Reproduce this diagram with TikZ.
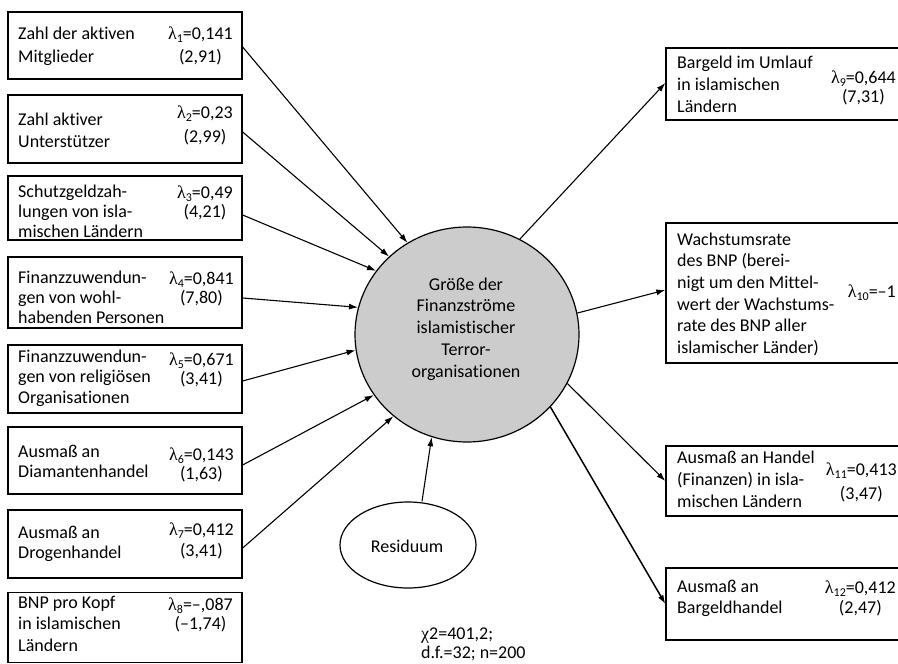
\documentclass[tikz,border=0pt]{standalone}
\usepackage{fontspec}
\setmainfont{Carlito}[Ligatures=NoCommon]
\newfontfamily\grk{Liberation Serif}
\usetikzlibrary{arrows.meta,shapes.geometric}
\newcommand\lam[1]{{\grk λ}\raisebox{-0.35ex}{\fontsize{12}{12}\selectfont #1}}
\begin{document}
\begin{tikzpicture}[x=1pt,y=-1pt,
  box/.style={draw, line width=1.3pt, inner sep=0pt, minimum width=234pt},
  rbox/.style={draw, line width=1.3pt, inner sep=0pt, minimum width=240pt},
  txt/.style={inner sep=0pt, align=left, font=\fontsize{18}{#1}\selectfont, anchor=base west},
  lamt/.style={inner sep=0pt, align=center, font=\fontsize{18}{#1}\selectfont, anchor=base east},
  conn/.style={line width=1.1pt, -{Latex[length=9pt,width=6pt]}}]
\useasboundingbox (0,0) rectangle (898,664);
% left boxes
\node[box, minimum height=67pt] (b1) at (125,45.5) {};
\node[box, minimum height=68pt] (b2) at (125,129) {};
\node[box, minimum height=64pt] (b3) at (125,208) {};
\node[box, minimum height=71pt] (b4) at (125,292.5) {};
\node[box, minimum height=68pt] (b5) at (125,379) {};
\node[box, minimum height=67pt] (b6) at (125,460.5) {};
\node[box, minimum height=68pt] (b7) at (125,544) {};
\node[box, minimum height=70pt] (b8) at (125,627.5) {};
\node[txt=23] (t1) at (18,62) {Zahl der aktiven\\Mitglieder};
\node[txt=22] (t2) at (18,147) {Zahl aktiver\\Unterstützer};
\node[txt=20] (t3) at (18,237.5) {Schutzgeldzah-\\lungen von isla-\\mischen Ländern};
\node[txt=20] (t4) at (18,323) {Finanzzuwendun-\\gen von wohl-\\habenden Personen};
\node[txt=20.5] (t5) at (18,403) {Finanzzuwendun-\\gen von religiösen\\Organisationen};
\node[txt=20] (t6) at (18,477) {Ausmaß an\\Diamantenhandel};
\node[txt=20.5] (t7) at (18,558.5) {Ausmaß an\\Drogenhandel};
\node[txt=21.5] (t8) at (18,651) {BNP pro Kopf\\in islamischen\\Ländern};
\node[lamt=23] (l1) at (233,62) {\lam{1}=0,141\\(2,91)};
\node[lamt=24] (l2) at (233,142) {\lam{2}=0,23\\(2,99)};
\node[lamt=19] (l3) at (233,217) {\lam{3}=0,49\\(4,21)};
\node[lamt=19] (l4) at (234,303) {\lam{4}=0,841\\(7,80)};
\node[lamt=19] (l5) at (234,384) {\lam{5}=0,671\\(3,41)};
\node[lamt=19] (l6) at (234,479) {\lam{6}=0,143\\(1,63)};
\node[lamt=21] (l7) at (234,556) {\lam{7}=0,412\\(3,41)};
\node[lamt=19] (l8) at (233,629) {\lam{8}=–,087\\(–1,74)};
% right boxes
\node[rbox, minimum height=72pt] (b9) at (786,84) {};
\node[rbox, minimum height=140pt] (b10) at (786,293) {};
\node[rbox, minimum height=70pt] (b11) at (786,481) {};
\node[rbox, minimum height=72pt] (b12) at (786,604) {};
\node[txt=22] (t9) at (677,112) {Bargeld im Umlauf\\in islamischen\\Ländern};
\node[txt=21.7] (t10) at (677,353.5) {Wachstumsrate\\des BNP (berei-\\nigt um den Mittel-\\wert der Wachstums-\\rate des BNP aller\\islamischer Länder)};
\node[txt=22] (t11) at (677,507) {Ausmaß an Handel\\(Finanzen) in isla-\\mischen Ländern};
\node[txt=21.5] (t12) at (677,613.5) {Ausmaß an\\Bargeldhandel};
\node[lamt=19] (l9) at (896,102) {\lam{9}=0,644\\(7,31)};
\node[lamt=20] (l10) at (896,297) {\lam{10}=–1};
\node[lamt=24] (l11) at (897,499) {\lam{11}=0,413\\(3,47)};
\node[lamt=20] (l12) at (896,613) {\lam{12}=0,412\\(2,47)};
% central latent variable
\node[ellipse, draw, line width=1.2pt, fill=gray!40, minimum width=224pt, minimum height=215pt, inner sep=0pt] (c) at (467,334.5) {};
\node[inner sep=0pt, align=center, font=\fontsize{18}{21.7}\selectfont, anchor=base] (ct) at (466,377) {Größe der\\Finanzströme\\islamistischer\\Terror-\\organisationen};
\node[ellipse, draw, line width=1.2pt, minimum width=136pt, minimum height=86pt, inner sep=0pt] (res) at (408,545) {};
\node[inner sep=0pt, font=\fontsize{18}{20}\selectfont, anchor=base] (rt) at (407,552) {Residuum};
\node[txt=19.5] (stats) at (421,658.5) {{\grk χ}2=401,2;\\d.f.=32; n=200};
% connectors
\draw[conn] ([yshift=-1.5pt]b1.east) -- (c.123);
\draw[conn] ([yshift=-3pt]b2.east) -- (c.135.2);
\draw[conn] ([yshift=-7pt]b3.east) -- (c.145);
\draw[conn] ([yshift=-5.5pt]b4.east) -- (c.166.7);
\draw[conn] ([yshift=-2pt]b5.east) -- (c.188.9);
\draw[conn] ([yshift=-4.5pt]b6.east) -- (c.213.6);
\draw[conn] ([yshift=-4pt]b7.east) -- (c.228.5);
\draw[conn] ([xshift=14pt]res.north) -- (c.251.8);
\draw[conn] (c.61.2) -- ([yshift=1pt]b9.west);
\draw[conn] (c.11) -- ([yshift=3pt]b10.west);
\draw[conn] (c.-26.6) -- (b11.west);
\draw[conn, line width=1.5pt] (c.-41.9) -- (b12.west);
\end{tikzpicture}
\end{document}
